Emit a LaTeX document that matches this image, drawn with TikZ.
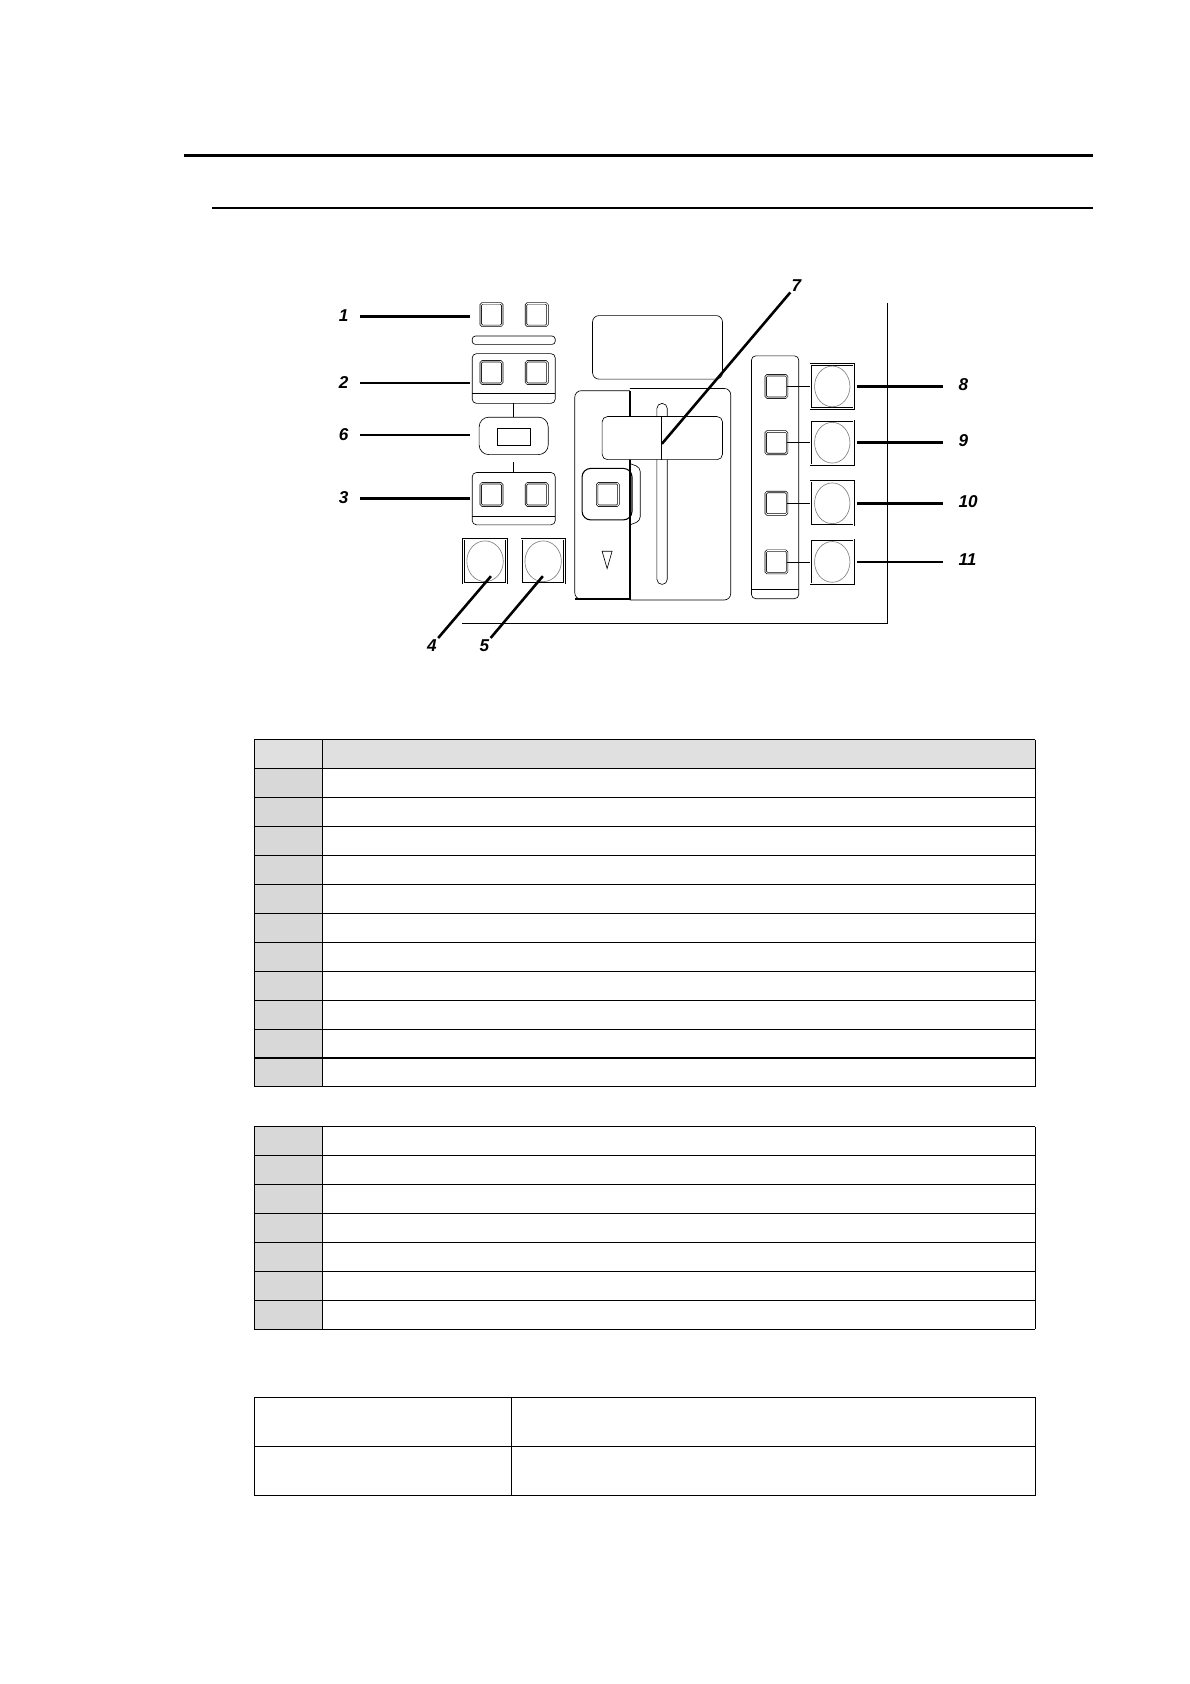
\documentclass[tikz,border=0pt]{standalone}
\usepackage{fontspec}
\setmainfont{Liberation Sans}
\usetikzlibrary{positioning}
\definecolor{headgray}{HTML}{E0E0E0}
\definecolor{colgray}{HTML}{D8D8D8}
\tikzset{
  num/.style={font=\fontsize{16}{18}\selectfont\bfseries\itshape, inner sep=1pt},
  lead/.style={line width=2.4pt},
  sqbtn/.style={draw, double, double distance=0.8pt, rounded corners=1.5pt, minimum width=20pt, minimum height=21pt, inner sep=0pt},
  rdbtn/.style={draw, double, double distance=1pt, minimum width=40pt, minimum height=41pt, inner sep=0pt},
  grp/.style={draw, rounded corners=4pt, line width=0.6pt},
  tline/.style={line width=1pt}
}
\begin{document}
\begin{tikzpicture}[x=1pt, y=-1pt, line width=0.6pt]
\useasboundingbox (0,0) rectangle (1110,1571);
% header rules
\draw[line width=2pt] (172,145) -- (1020,145);
\draw[line width=1.5pt] (198,194) -- (1020,194);

% panel frame
\draw (827.6,282.7) -- (827.6,581.4) -- (430.9,581.4);

% left column
\node[sqbtn] (b1a) at (458.5,293.5) {};
\node[sqbtn] (b1b) at (500.7,293.5) {};
\draw[grp, rounded corners=3pt] (440.5,313.5) rectangle (518,321.3);
\draw[grp] (440.5,329.9) rectangle (518,376.3);
\draw (440.5,367) -- (518,367);
\node[sqbtn] (b2a) at (458.5,347.5) {};
\node[sqbtn] (b2b) at (500.7,347.5) {};
\draw (479.3,376.3) -- (479.3,389.2);
\draw[grp, rounded corners=9pt] (447,389.2) rectangle (511.4,424.1);
\node[draw, minimum width=31pt, minimum height=16pt, inner sep=0pt] (b6) at (479.3,407.5) {};
\draw (479.3,431) -- (479.3,440.8);
\draw[grp] (440.5,440.8) rectangle (518,489.6);
\draw (440.5,481.3) -- (518,481.3);
\node[sqbtn] (b3a) at (458.5,461.3) {};
\node[sqbtn] (b3b) at (500.7,461.3) {};
\foreach \n/\x in {b4/452.5, b5/506.7} {
  \node[rdbtn] (\n) at (\x,523.6) {};
  \draw[gray] (\n) ellipse (17pt and 19pt);
}

% fader section
\draw[grp, rounded corners=6pt] (552.8,294.4) rectangle (674,353.7);
\draw[grp, rounded corners=6pt] (587.7,362.4) -| (681.7,559.7) -- (587.7,559.7);
\draw[grp, rounded corners=6pt] (587.7,364.5) -- (536.2,364.5) |- (587.7,559);
\draw[line width=1.8pt] (536.2,559) -- (587.7,559) -- (587.7,364.5);
\draw[grp, rounded corners=4.8pt] (612.8,376.3) rectangle (622.5,545.2);
\draw[grp, fill=white, rounded corners=5pt] (561.7,388.6) rectangle (674,428.8);
\draw[line width=1pt] (617.5,388.6) -- (617.5,428.8);
\coordinate (fad) at (617.5,414);
\draw[grp] (587.7,432.5) -- (597.3,436) -- (597.3,486) -- (587.7,489.6);
\draw[grp, rounded corners=8pt, line width=1pt] (543,437) rectangle (589.6,485);
\node[sqbtn] (b7) at (567,461.3) {};
\draw (561.7,514.3) -- (571,514.3) -- (566.4,530.4) -- cycle;

% right column
\draw[grp] (701,332) rectangle (745.2,558.5);
\draw (701,549.9) -- (745.2,549.9);
\foreach \n/\y in {8/360.5, 9/413, 10/469.5, 11/524.2} {
  \node[sqbtn] (s\n) at (724.3,\y) {};
  \node[rdbtn] (r\n) at (776.4,\y) {};
  \draw[gray] (r\n) ellipse (16.5pt and 19pt);
  \draw (s\n) -- (r\n);
  \node[num, anchor=west] (n\n) at (893,\y-2) {\n};
  \coordinate (c\n) at (880,\y);
  \draw[lead] ([xshift=3pt]r\n.east) -- (c\n);
}

% leaders on the left
\foreach \k/\y in {1/295, 2/357.4, 6/406, 3/465} {
  \node[num] (n\k) at (320.5,\y-1) {\k};
  \coordinate (c\k) at (438,\y);
  \draw[lead] (336,\y) -- (c\k);
}
\node[num] (n4) at (403,602) {4};
\node[num] (n5) at (452,602) {5};
\coordinate (c4) at (458,537.5);
\coordinate (c5) at (506.4,537.5);
\draw[lead] (n4.north east) -- (c4);
\draw[lead] (n5.north east) -- (c5);
\node[num] (n7) at (743,266) {7};
\draw[lead] (n7.south west) -- (fad);

% table 1
\fill[headgray] (237,690) rectangle (966,717);
\fill[colgray] (237,717) rectangle (301,1014);
\foreach \r in {0,...,11} \draw[tline] (237,690+27*\r) -- (966,690+27*\r);
\draw[tline] (237,1014) -- (966,1014);
\draw[tline] (237,690) -- (237,1014) (301,690) -- (301,1014) (966,690) -- (966,1014);

% table 2
\fill[colgray] (237,1051) rectangle (301,1240);
\foreach \r in {0,...,7} \draw[tline] (237,1051+27*\r) -- (966,1051+27*\r);
\draw[tline] (237,1051) -- (237,1240) (301,1051) -- (301,1240) (966,1051) -- (966,1240);

% table 3
\draw[tline] (237,1304) rectangle (966,1395);
\draw[tline] (237,1349) -- (966,1349) (477,1304) -- (477,1395);
\end{tikzpicture}
\end{document}
